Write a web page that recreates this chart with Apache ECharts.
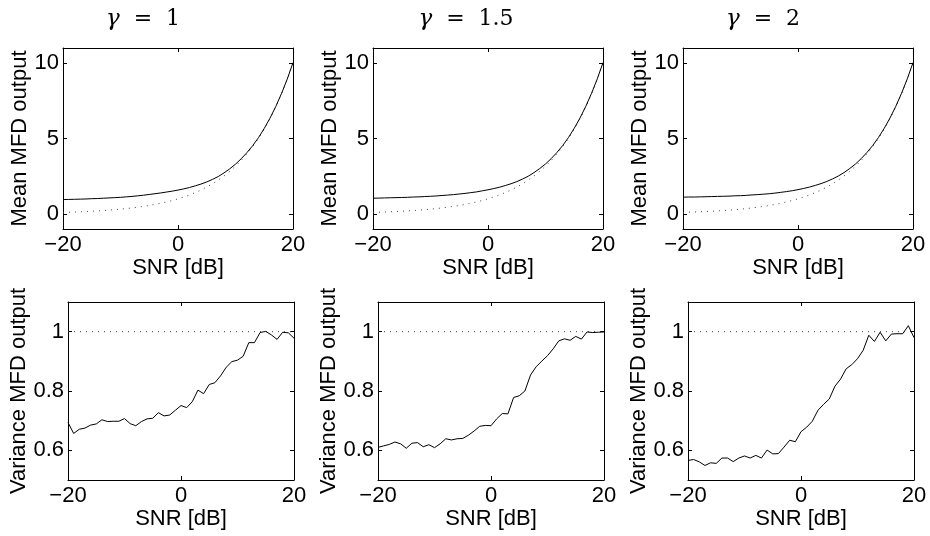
<!DOCTYPE html>
<html>
<head>
<meta charset="utf-8">
<script src="https://cdn.jsdelivr.net/npm/echarts@6.0.0/dist/echarts.min.js"></script>
<style>
html, body { margin: 0; padding: 0; background: #fff; }
#chart { width: 930px; height: 536px; }
</style>
</head>
<body>
<div id="chart"></div>
<script>
// SNR grid in dB (one point per dB)
const snr = [-20, -19, -18, -17, -16, -15, -14, -13, -12, -11, -10, -9, -8, -7, -6, -5, -4, -3, -2, -1,
  0, 1, 2, 3, 4, 5, 6, 7, 8, 9, 10, 11, 12, 13, 14, 15, 16, 17, 18, 19, 20];

// mean MFD output (solid), one list per gamma
const meanG1 = [0.95, 0.96, 0.97, 0.98, 0.99, 1.01, 1.02, 1.04, 1.06, 1.08, 1.10, 1.13, 1.16, 1.20, 1.24, 1.29, 1.34, 1.39, 1.45, 1.51,
  1.58, 1.66, 1.75, 1.86, 1.98, 2.12, 2.29, 2.48, 2.72, 2.99, 3.30, 3.66, 4.07, 4.53, 5.06, 5.67, 6.35, 7.12, 7.98, 8.94, 10.03];
const meanG15 = [1.04, 1.05, 1.06, 1.07, 1.08, 1.09, 1.10, 1.12, 1.13, 1.15, 1.17, 1.19, 1.22, 1.25, 1.28, 1.32, 1.36, 1.41, 1.46, 1.53,
  1.60, 1.68, 1.77, 1.88, 2.00, 2.14, 2.31, 2.50, 2.74, 3.01, 3.31, 3.67, 4.08, 4.54, 5.07, 5.68, 6.36, 7.13, 7.99, 8.95, 10.03];
const meanG2 = [1.11, 1.12, 1.12, 1.13, 1.14, 1.15, 1.16, 1.17, 1.18, 1.20, 1.21, 1.23, 1.26, 1.28, 1.31, 1.34, 1.38, 1.43, 1.48, 1.54,
  1.61, 1.69, 1.78, 1.89, 2.01, 2.15, 2.32, 2.51, 2.74, 3.01, 3.31, 3.67, 4.08, 4.54, 5.07, 5.68, 6.36, 7.13, 7.99, 8.95, 10.03];
// dotted reference curve in the mean plots
const meanRef = [0.100, 0.112, 0.126, 0.141, 0.158, 0.178, 0.200, 0.224, 0.251, 0.282, 0.316, 0.355, 0.398, 0.447, 0.501, 0.562, 0.631, 0.708, 0.794, 0.891,
  1.000, 1.122, 1.259, 1.413, 1.585, 1.778, 1.995, 2.239, 2.512, 2.818, 3.162, 3.548, 3.981, 4.467, 5.012, 5.623, 6.310, 7.079, 7.943, 8.913, 10.000];

// variance MFD output, one list per gamma
const varG1 = [0.694, 0.657, 0.671, 0.675, 0.685, 0.689, 0.703, 0.697, 0.698, 0.698, 0.707, 0.690, 0.683, 0.697, 0.706, 0.708, 0.727, 0.716, 0.719, 0.735,
  0.751, 0.744, 0.764, 0.803, 0.791, 0.822, 0.828, 0.851, 0.880, 0.899, 0.904, 0.917, 0.963, 0.963, 0.997, 1.001, 0.989, 0.974, 0.998, 0.996, 0.978];
const varG15 = [0.610, 0.615, 0.620, 0.628, 0.622, 0.607, 0.624, 0.626, 0.612, 0.619, 0.609, 0.622, 0.639, 0.635, 0.639, 0.640, 0.651, 0.665, 0.681, 0.684,
  0.683, 0.706, 0.724, 0.723, 0.778, 0.784, 0.800, 0.854, 0.882, 0.901, 0.919, 0.942, 0.969, 0.976, 0.971, 0.984, 0.975, 0.999, 0.997, 0.998, 0.999];
const varG2 = [0.566, 0.569, 0.561, 0.549, 0.558, 0.556, 0.574, 0.574, 0.562, 0.574, 0.581, 0.574, 0.583, 0.574, 0.601, 0.588, 0.589, 0.611, 0.634, 0.629,
  0.663, 0.678, 0.698, 0.735, 0.755, 0.773, 0.816, 0.840, 0.875, 0.889, 0.909, 0.937, 0.988, 0.967, 0.998, 0.969, 0.992, 0.993, 0.993, 1.020, 0.980];
const varRef = 1;

const gammas = ['1', '1.5', '2'];
const xTicks = [-20, 0, 20];
const meanTicks = [0, 5, 10];
const varTicks = [0.6, 0.8, 1];

const meanSets = [meanG1, meanG15, meanG2];
const varSets = [varG1, varG15, varG2];

const font = 'Liberation Sans, Arial, sans-serif';
const minus = v => String(v).replace('-', '\u2212');

const topLefts = [63, 373, 683];
const botLefts = [68, 378, 688];
const titleX = [143, 466, 763];

let grids = [], xAxes = [], yAxes = [], series = [];

function addPanel(left, top, width, height, yMin, yMax, yTicks, yName, yNameGap, xNameGap) {
  const g = grids.length;
  grids.push({ left: left, top: top, width: width, height: height });
  const line = { show: true, onZero: false, lineStyle: { color: '#000', width: 1 } };
  const tick = (vals) => ({ show: true, inside: true, length: 4, customValues: vals, lineStyle: { color: '#000', width: 1 } });
  xAxes.push({
    gridIndex: g, type: 'value', min: -20, max: 20, position: 'bottom',
    axisLine: line, axisTick: tick(xTicks), splitLine: { show: false },
    axisLabel: { customValues: xTicks, fontSize: 22, fontFamily: font, color: '#000', margin: 5, formatter: minus },
    name: 'SNR [dB]', nameLocation: 'middle', nameGap: xNameGap,
    nameTextStyle: { fontSize: 22, fontFamily: font, color: '#000' }
  });
  xAxes.push({
    gridIndex: g, type: 'value', min: -20, max: 20, position: 'top',
    axisLine: line, axisTick: tick(xTicks), splitLine: { show: false }, axisLabel: { show: false }
  });
  yAxes.push({
    gridIndex: g, type: 'value', min: yMin, max: yMax, position: 'left',
    axisLine: line, axisTick: tick(yTicks), splitLine: { show: false },
    axisLabel: { customValues: yTicks, fontSize: 22, fontFamily: font, color: '#000', margin: 4 },
    name: yName, nameLocation: 'middle', nameRotate: 90, nameGap: yNameGap,
    nameTextStyle: { fontSize: 22, fontFamily: font, color: '#000' }
  });
  yAxes.push({
    gridIndex: g, type: 'value', min: yMin, max: yMax, position: 'right',
    axisLine: line, axisTick: tick(yTicks), splitLine: { show: false }, axisLabel: { show: false }
  });
  return 2 * g;
}

for (let i = 0; i < 3; i++) {
  // top row: mean
  let a = addPanel(topLefts[i], 48, 230, 181, -1, 11, meanTicks, 'Mean MFD output', 30, 28);
  series.push({
    type: 'line', xAxisIndex: a, yAxisIndex: a, showSymbol: false, silent: true,
    data: snr.map((x, k) => [x, meanRef[k]]),
    lineStyle: { color: '#444', width: 1, type: [1, 5] }
  });
  series.push({
    type: 'line', xAxisIndex: a, yAxisIndex: a, showSymbol: false, silent: true,
    data: snr.map((x, k) => [x, meanSets[i][k]]),
    lineStyle: { color: '#000', width: 1 }
  });
  // bottom row: variance
  let b = addPanel(botLefts[i], 302, 226, 178, 0.5, 1.1, varTicks, 'Variance MFD output', 35, 24);
  series.push({
    type: 'line', xAxisIndex: b, yAxisIndex: b, showSymbol: false, silent: true,
    data: [[-20, varRef], [20, varRef]],
    lineStyle: { color: '#444', width: 1, type: [1, 5] }
  });
  series.push({
    type: 'line', xAxisIndex: b, yAxisIndex: b, showSymbol: false, silent: true,
    data: snr.map((x, k) => [x, varSets[i][k]]),
    lineStyle: { color: '#000', width: 1 }
  });
}

const titles = gammas.map((gm, i) => ({
  type: 'text', x: titleX[i], y: 19,
  style: {
    text: '{g|\u03b3}  =  ' + gm,
    fontSize: 22, fontFamily: 'DejaVu Serif, serif', fill: '#000',
    align: 'center', verticalAlign: 'middle',
    rich: { g: { fontStyle: 'italic', fontSize: 23, fontFamily: 'DejaVu Serif, serif' } }
  }
}));

const myChart = echarts.init(document.getElementById('chart'));
myChart.setOption({
  animation: false,
  backgroundColor: '#fff',
  grid: grids,
  xAxis: xAxes,
  yAxis: yAxes,
  series: series,
  graphic: titles
});
</script>
</body>
</html>
